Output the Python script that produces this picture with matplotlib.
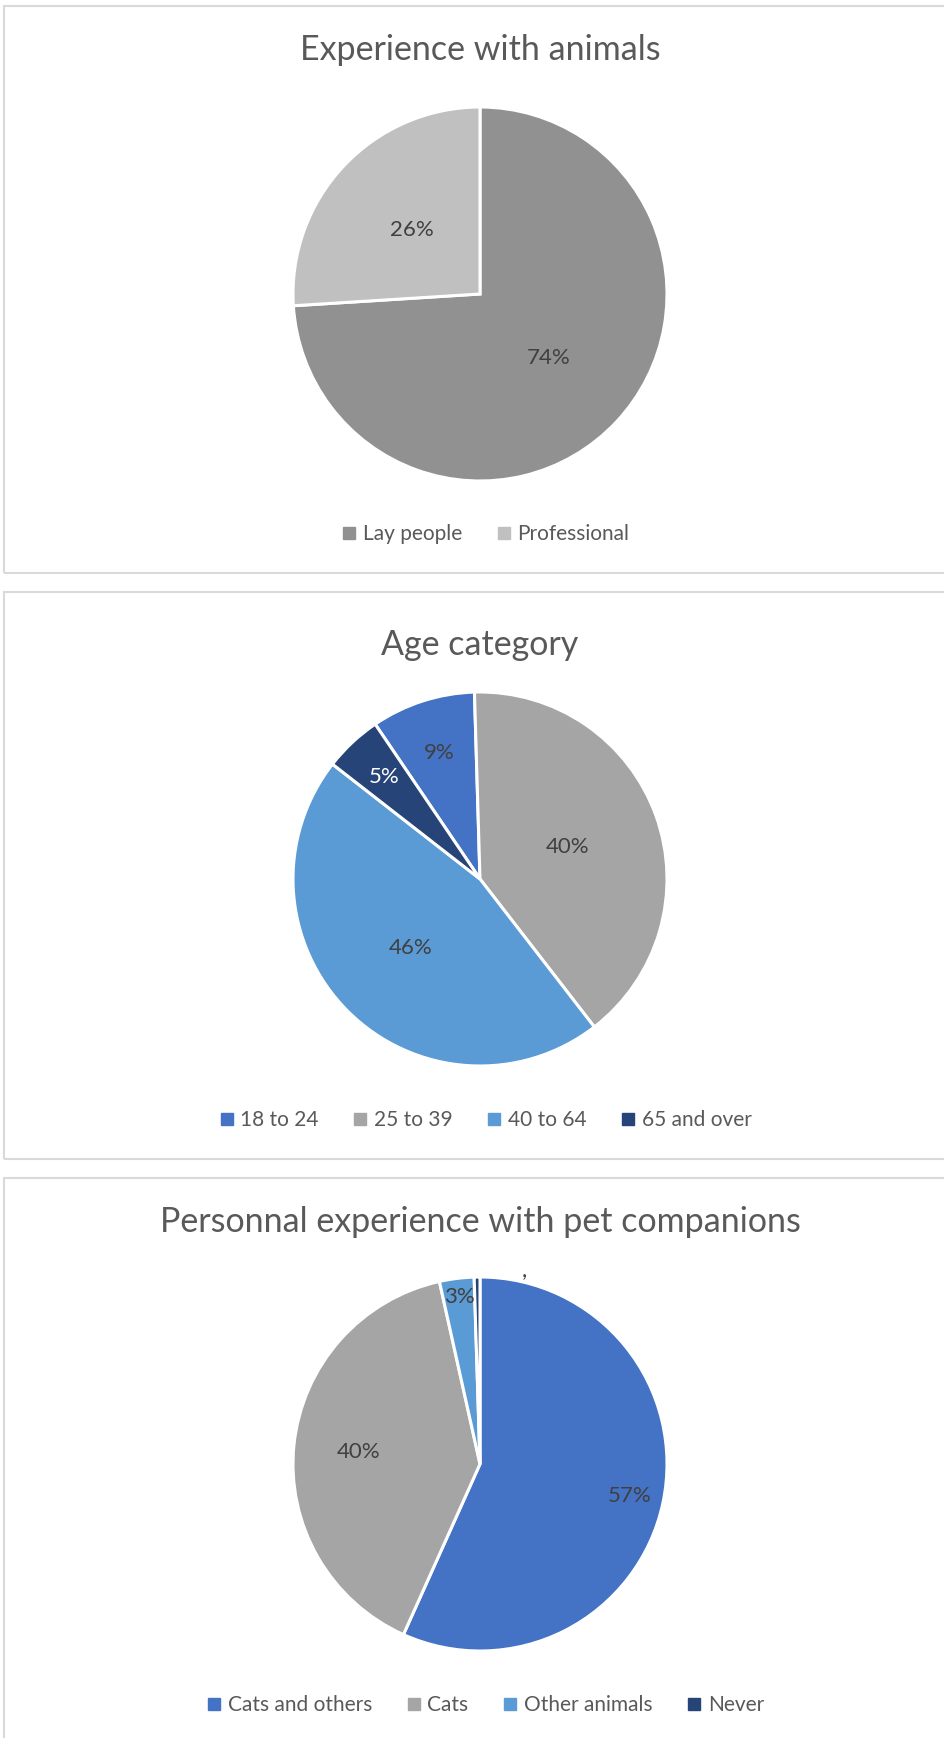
import numpy as np
import matplotlib.pyplot as plt
from matplotlib.lines import Line2D
from matplotlib.patches import Rectangle

plt.rcParams['font.family'] = ['Lato', 'DejaVu Sans']

# data
exp_labels = ['Lay people', 'Professional']
exp_values = [74, 26]
exp_colors = ['#919191', '#c0c0c0']

age_labels = ['18 to 24', '25 to 39', '40 to 64', '65 and over']
age_values = [9, 40, 46, 5]
age_colors = ['#4472c4', '#a5a5a5', '#5b9bd5', '#264478']

pet_labels = ['Cats and others', 'Cats', 'Other animals', 'Never']
pet_values = [57, 40, 3, 0.5]
pet_colors = ['#4472c4', '#a5a5a5', '#5b9bd5', '#264478']

W, H = 945, 1738
fig = plt.figure(figsize=(W / 100, H / 100), dpi=100)

# panel frames (pixel coords, top-left origin)
for y0, y1 in [(6, 573), (592, 1159), (1178, 1760)]:
    fig.add_artist(Rectangle((4 / W, 1 - y1 / H), (W + 20) / W, (y1 - y0) / H,
                             transform=fig.transFigure, fill=False,
                             edgecolor='#d9d9d9', lw=1.5))


def draw_pie(values, colors, labels, title, cx, cy, ty, ly, start, lab_r, lab_colors):
    r = 187
    ax = fig.add_axes([(cx - r) / W, 1 - (cy + r) / H, 2 * r / W, 2 * r / H])
    wedges, _ = ax.pie(values, colors=colors, startangle=start, counterclock=False,
                       wedgeprops=dict(edgecolor='white', linewidth=2.2))
    ax.set_xlim(-1, 1)
    ax.set_ylim(-1, 1)
    total = sum(values)
    for w, v, d, c in zip(wedges, values, lab_r, lab_colors):
        if d is None:
            continue
        a = np.deg2rad((w.theta1 + w.theta2) / 2)
        ax.text(d * np.cos(a), d * np.sin(a), '%.0f%%' % (100 * v / total),
                ha='center', va='center', fontsize=16, color=c)
    fig.text(480 / W, 1 - ty / H, title, ha='center', va='center',
             fontsize=24.5, color='#595959')
    handles = [Line2D([], [], marker='s', ls='', color=c, markersize=8) for c in colors]
    fig.legend(handles, labels, loc='center', bbox_to_anchor=(486 / W, 1 - ly / H),
               ncol=len(labels), frameon=False, fontsize=15, labelcolor='#595959',
               handlelength=0.6, handletextpad=0.35, columnspacing=1.7)
    return ax


draw_pie(exp_values, exp_colors, exp_labels, 'Experience with animals',
         480, 294, 50, 534, 90, [0.5, 0.5], ['#404040'] * 2)
draw_pie(age_values, age_colors, age_labels, 'Age category',
         480, 879, 645, 1120, 124.1, [0.71, 0.5, 0.52, 0.75],
         ['#404040', '#404040', '#404040', 'white'])
ax3 = draw_pie(pet_values, pet_colors, pet_labels, 'Personnal experience with pet companions',
               480, 1464, 1222, 1705, 90, [0.82, 0.65, 0.9, None], ['#404040'] * 4)
ax3.text(0.235, 1.03, ',', ha='center', va='center', fontsize=16, color='#404040')

fig.savefig('out.png', dpi=100)
